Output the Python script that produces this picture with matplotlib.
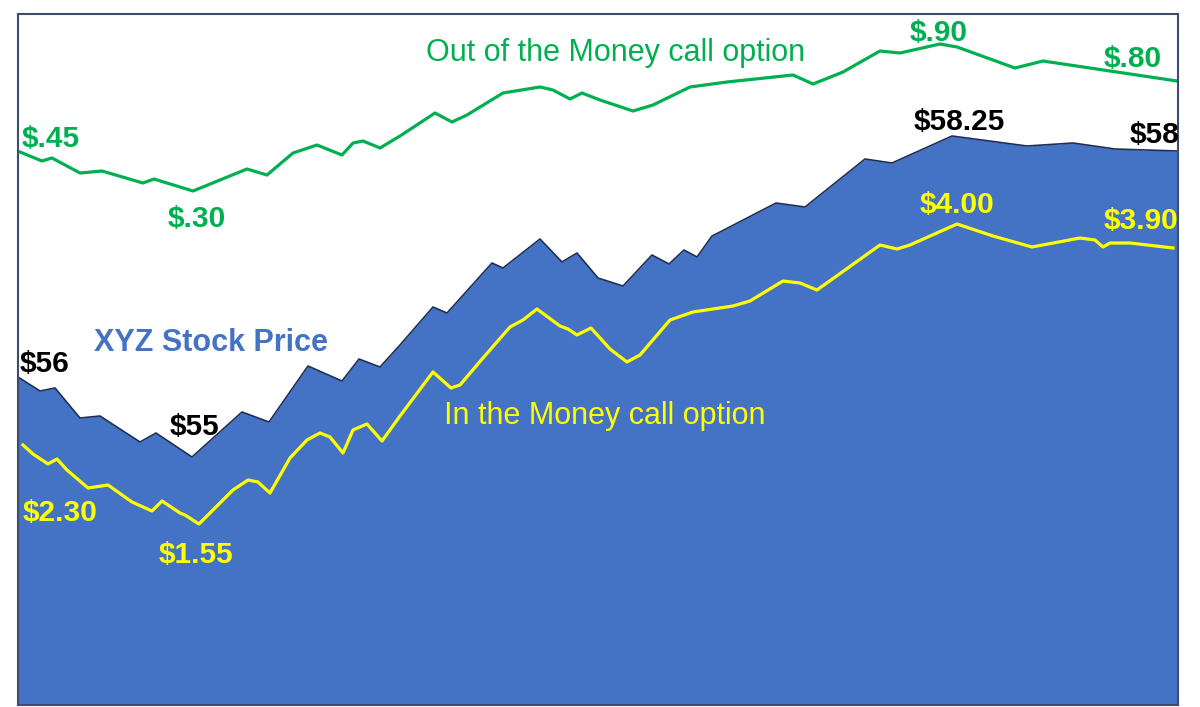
import matplotlib
matplotlib.use("Agg")
import matplotlib.pyplot as plt

# day index and chart level
stock_x = [0, 22, 37, 62, 82, 122, 138, 174, 224, 251, 290, 324, 341, 362, 382, 415, 429,
           474, 485, 522, 544, 559, 580, 605, 634, 651, 666, 679, 694, 702, 758, 787, 847,
           874, 934, 1009, 1055, 1097, 1160]
stock_y = [328, 314, 317, 287, 289, 263, 272, 248, 293, 283, 339, 324, 346, 338, 360, 398, 392,
           442, 437, 466, 443, 452, 427, 419, 450, 441, 455, 448, 469, 473, 502, 498, 546,
           542, 569, 559, 562, 556, 554]

itm_x = [5, 15, 30, 39, 49, 70, 90, 114, 134, 144, 162, 167, 181, 215, 230, 240, 252, 272,
         289, 302, 312, 325, 335, 349, 364, 382, 415, 433, 442, 465, 492, 505, 519, 542, 550,
         559, 573, 592, 609, 622, 652, 675, 715, 732, 765, 782, 799, 862, 879, 892, 939, 975,
         1014, 1062, 1077, 1085, 1092, 1112, 1155]
itm_y = [260, 251, 241, 246, 235, 217, 220, 203, 194, 204, 192, 190, 181, 215, 225, 223, 212, 247,
         265, 272, 268, 252, 275, 281, 264, 289, 333, 317, 320, 347, 378, 385, 396, 379, 376,
         370, 377, 356, 343, 350, 385, 393, 399, 404, 424, 422, 415, 460, 456, 460, 481, 469,
         458, 467, 465, 458, 462, 462, 457]

otm_x = [2, 24, 34, 62, 84, 125, 136, 175, 202, 229, 249, 275, 299, 324, 335, 345, 362, 382,
         417, 434, 449, 485, 522, 535, 552, 564, 582, 615, 635, 672, 709, 775, 795, 825, 862,
         882, 922, 939, 997, 1025, 1159]
otm_y = [553, 544, 547, 532, 534, 522, 526, 514, 525, 536, 530, 552, 560, 550, 562, 564, 557, 569,
         592, 583, 590, 612, 618, 615, 606, 612, 605, 594, 600, 618, 623, 630, 621, 633, 654,
         652, 661, 658, 637, 644, 624]

blue = "#4472C4"
navy = "#1F3056"
green = "#00B050"
yellow = "#FFFF00"

plt.rcParams['font.family'] = ['Liberation Sans', 'DejaVu Sans']

fig = plt.figure(figsize=(12, 7.07), dpi=100)
ax = fig.add_axes([18/1200, 2/707, 1160/1200, 691/707])
ax.fill_between(stock_x, stock_y, 0, color=blue, lw=0)
ax.plot(stock_x, stock_y, color=navy, lw=1.2)
ax.plot(itm_x, itm_y, color=yellow, lw=2.3, solid_joinstyle='round')
ax.plot(otm_x, otm_y, color=green, lw=2.3, solid_joinstyle='round')

ax.set_xlim(0, 1160)
ax.set_ylim(0, 691)
ax.set_xticks([])
ax.set_yticks([])
for s in ax.spines.values():
    s.set_color("#3F4C6B")
    s.set_linewidth(1.5)

bold = dict(fontsize=21.5, fontweight='bold', va='center')
ax.text(4, 566, "$.45", color=green, ha='left', **bold)
ax.text(179, 486, "$.30", color=green, ha='center', **bold)
ax.text(921, 672, "$.90", color=green, ha='center', **bold)
ax.text(1115, 646, "$.80", color=green, ha='center', **bold)
ax.text(941, 583, "$58.25", color='black', ha='center', **bold)
ax.text(1161, 570, "$58", color='black', ha='right', **bold)
ax.text(2, 341, "$56", color='black', ha='left', **bold)
ax.text(177, 278, "$55", color='black', ha='center', **bold)
ax.text(42, 192, "$2.30", color=yellow, ha='center', **bold)
ax.text(178, 150, "$1.55", color=yellow, ha='center', **bold)
ax.text(939, 500, "$4.00", color=yellow, ha='center', **bold)
ax.text(1123, 484, "$3.90", color=yellow, ha='center', **bold)

ax.text(193, 362, "XYZ Stock Price", color=blue, fontsize=22, fontweight='bold',
        ha='center', va='center')
ax.text(598, 652, "Out of the Money call option", color=green, fontsize=22,
        ha='center', va='center')
ax.text(587, 289, "In the Money call option", color=yellow, fontsize=22,
        ha='center', va='center')

fig.savefig("out.png", dpi=100, facecolor='white')
